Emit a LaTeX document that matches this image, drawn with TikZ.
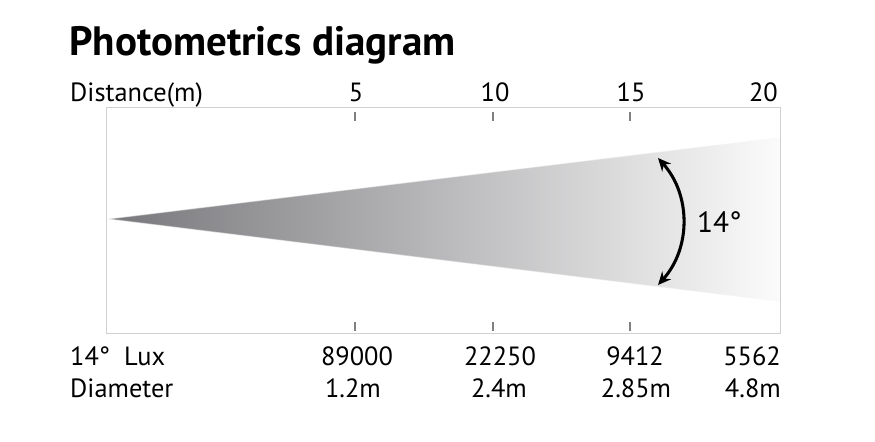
\documentclass[tikz,border=0pt]{standalone}
\usepackage{fontspec}
\setmainfont{PT Sans}
\usetikzlibrary{arrows.meta}
\definecolor{beamdark}{RGB}{120,120,124}
\definecolor{beamlight}{RGB}{251,251,251}
\definecolor{frame}{RGB}{208,208,208}
\definecolor{tick}{RGB}{128,128,128}
\begin{document}
\begin{tikzpicture}[x=0.03cm,y=-0.03cm,
  txt/.style={inner sep=0pt,font=\fontsize{22.5}{25}\selectfont},
  tickmark/.style={draw=tick,line width=2.2pt}]
\useasboundingbox (0,0) rectangle (875,441);
% title
\node[inner sep=0pt,anchor=base west,font=\fontsize{35}{38}\bfseries] (title) at (69,55) {Photometrics diagram};
% distance row
\node[txt,anchor=base west] (dist) at (70,101) {Distance(m)};
\node[txt,anchor=base] (d5) at (356,101) {5};
\node[txt,anchor=base] (d10) at (495,101) {10};
\node[txt,anchor=base] (d15) at (631,101) {15};
\node[txt,anchor=base east] (d20) at (778,101) {20};
% beam
\coordinate (apex) at (108,219);
\coordinate (beamtop) at (780,137);
\coordinate (beambot) at (780,302);
\shade[left color=beamdark,right color=beamlight] (apex) -- (beamtop) -- (beambot) -- cycle;
\draw[white,opacity=0.5,line width=1pt] (beamtop) -- (apex) -- (beambot);
% frame
\draw[frame,line width=0.8pt] (106,107) rectangle (780,333);
\foreach \x in {355,493,630} {
  \draw[tickmark] (\x,112) -- (\x,121);
  \draw[tickmark] (\x,322) -- (\x,331);
}
% angle
\coordinate (arctop) at (658,158);
\coordinate (arcbot) at (658,285);
\draw[line width=2.6pt,{Stealth[length=11pt,width=10pt]}-{Stealth[length=11pt,width=10pt]}] (arctop) .. controls (691,195) and (691,248) .. (arcbot);
\node[txt,anchor=west,font=\fontsize{25}{27}\selectfont] (angle) at (697,222) {14°};
% lux row
\node[txt,anchor=base west] (lux) at (70,365) {14°\ \ Lux};
\node[txt,anchor=base] (l5) at (357,365) {89000};
\node[txt,anchor=base] (l10) at (500,365) {22250};
\node[txt,anchor=base] (l15) at (635,365) {9412};
\node[txt,anchor=base east] (l20) at (781,365) {5562};
% diameter row
\node[txt,anchor=base west] (diam) at (70,397) {Diameter};
\node[txt,anchor=base] (m5) at (353,397) {1.2m};
\node[txt,anchor=base] (m10) at (499,397) {2.4m};
\node[txt,anchor=base] (m15) at (636,397) {2.85m};
\node[txt,anchor=base east] (m20) at (781,397) {4.8m};
\end{tikzpicture}
\end{document}
